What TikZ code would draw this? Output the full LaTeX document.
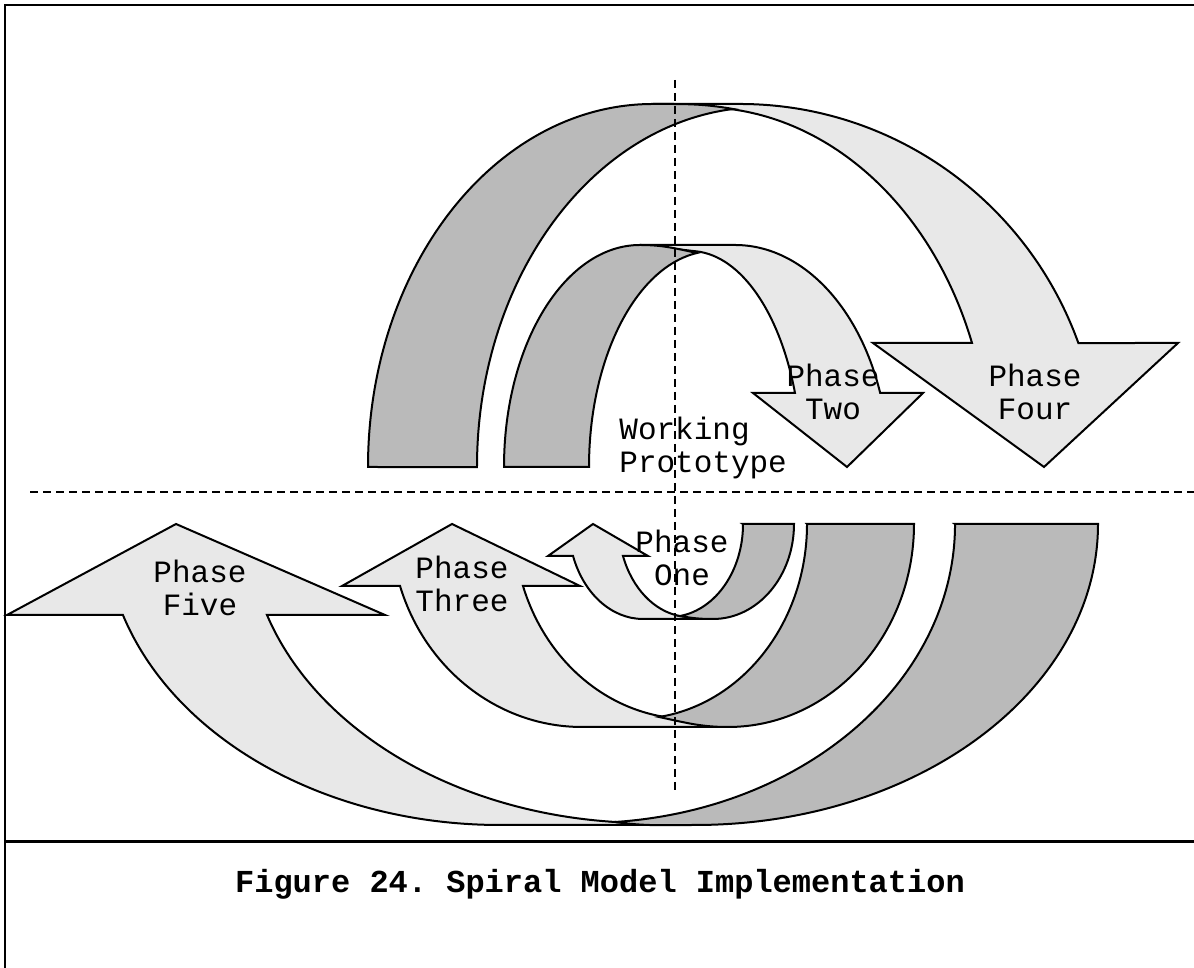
\documentclass[tikz,border=0pt]{standalone}
\usepackage{fontspec}
\setmainfont{Liberation Mono}
\usepackage{tikz}
\usetikzlibrary{calc}
\definecolor{band-dark}{gray}{0.73}
\definecolor{band-light}{gray}{0.91}

\tikzset{
	darkband/.style={draw=black, fill=band-dark, line width=1pt},
	lightband/.style={draw=black, fill=band-light, line width=1pt},
	guide/.style={line width=0.75pt, dash pattern=on 4pt off 2.5pt},
	phase/.style={align=center, inner sep=0pt, font=\fontsize{15.5}{16.5}\selectfont}
}

\begin{document}
\frenchspacing
\begin{tikzpicture}[x=0.5pt, y=0.5pt]
	\useasboundingbox (0,0) rectangle (1194,968);
	
	% frame
	\draw[line width=1pt] (1194,963) -- (5,963) -- (5,0);
	\draw[line width=1.5pt] (5,126) -- (1194,126);
	
	% phase four
	\draw[lightband] (653,864) -- (740,864) arc[start angle=90, end angle=19.97, x radius=360, y radius=363] -- (1178,625) -- (1044,501) -- (873,625) -- (972,625) arc[start angle=20.15, end angle=83.47, x radius=290, y radius=360] -- cycle;
	\draw[darkband] (368,501) arc[start angle=180, end angle=90, x radius=285, y radius=363] to[out=0, in=170] (733,859) arc[start angle=95.84, end angle=180, x radius=285, y radius=360] -- cycle;
	
	% phase two
	\draw[lightband] (640,723) -- (735,723) arc[start angle=90, end angle=19.47, x radius=154, y radius=222] -- (923,575) -- (847,501) -- (753,575) -- (795,575) arc[start angle=20.03, end angle=86.41, x radius=111.8, y radius=216] -- cycle;
	\draw[darkband] (504,501) arc[start angle=180, end angle=90, x radius=136, y radius=222] to[out=0, in=168] (697,715) arc[start angle=97.82, end angle=180, x radius=125, y radius=216] -- cycle;
	
	% phase one
	\draw[lightband] (713,349) -- (643,349) arc[start angle=270, end angle=199.68, x radius=74.3, y radius=95] -- (548,412) -- (593,444) -- (648,412) -- (623,412) arc[start angle=200.13, end angle=261.95, x radius=71.4, y radius=93] -- cycle;
	\draw[darkband] (743,444) -- (794,444) arc[start angle=0, end angle=-90, x radius=81, y radius=95] to[out=180, in=-10] (680,352) arc[start angle=-81.59, end angle=0, x radius=73.8, y radius=93] -- cycle;
	
	% phase three
	\draw[lightband] (728,241) -- (582,241) arc[start angle=270, end angle=197.78, x radius=191.1, y radius=203] -- (342,382) -- (452,444) -- (580,382) -- (523,382) arc[start angle=198.54, end angle=260.1, x radius=176.2, y radius=195] -- cycle;
	\draw[darkband] (807,444) -- (914,444) arc[start angle=0, end angle=-90, x radius=186, y radius=203] to[out=180, in=-12] (659,251) arc[start angle=-81.78, end angle=0, x radius=172.7, y radius=195] -- cycle;
	
	% phase five
	\draw[lightband] (695,143) -- (500,143) arc[start angle=270, end angle=197.6, x radius=395.6, y radius=301] -- (7,353) -- (176,444) -- (385,353) -- (267,353) arc[start angle=197.72, end angle=265.27, x radius=400, y radius=299] -- cycle;
	\draw[darkband] (955,444) -- (1098,444) arc[start angle=0, end angle=-90, x radius=403, y radius=301] to[out=180, in=-8] (615,146) arc[start angle=-85.31, end angle=0, x radius=370.3, y radius=299] -- cycle;
	
	% axes
	\coordinate (vtop) at (675,888);
	\coordinate (vbot) at (675,178);
	\coordinate (hleft) at (30,476);
	\coordinate (hright) at (1194,476);
	\draw[guide] (vtop) -- (vbot);
	\draw[guide] (hleft) -- (hright);
	
	\node[phase] at (1035,576) (four) {Phase\\Four};
	\node[phase] at (833,576) (two) {Phase\\Two};
	\node[phase, anchor=west, align=left] at (619,520) (proto) {Working\\Prototype};
	\node[phase] at (682,410) (one) {Phase\\One};
	\node[phase] at (462,384) (three) {Phase\\Three};
	\node[phase] at (200,380) (five) {Phase\\Five};
	
	\node[font=\fontsize{16}{18}\selectfont\bfseries] at (600,84) (caption) {Figure 24. Spiral Model Implementation};
\end{tikzpicture}
\end{document}
